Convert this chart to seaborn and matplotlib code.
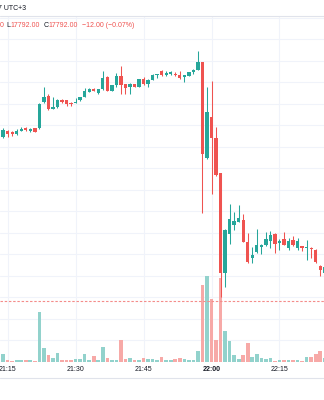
import numpy as np
import pandas as pd
import matplotlib
matplotlib.use("Agg")
import matplotlib.pyplot as plt
from matplotlib.lines import Line2D
import seaborn as sns

# ---------------- data (1-minute bars, UTC+3) ----------------
times = pd.date_range("2024-05-01 21:13", periods=73, freq="1min")
opens = [18162, 18174, 18188, 18185, 18181, 18188, 18194, 18188, 18193, 18195,
         18254, 18269, 18239, 18242, 18259, 18259, 18253, 18252, 18258, 18267,
         18278, 18284, 18276, 18284, 18313, 18281, 18294, 18314, 18296, 18290,
         18296, 18290, 18307, 18296, 18306, 18316, 18327, 18317, 18319, 18320,
         18317, 18313, 18315, 18325, 18329, 18347, 18124, 18220, 18171, 18089,
         17857, 17948, 17968, 17976, 17979, 17929, 17892, 17905, 17917, 17921,
         17931, 17948, 17927, 17936, 17915, 17933, 17915, 17919, 17914, 17916,
         17911, 17874, 17856]
highs = [18180, 18194, 18190, 18188, 18192, 18197, 18196, 18193, 18194, 18252,
         18290, 18272, 18265, 18262, 18262, 18260, 18255, 18263, 18267, 18287,
         18286, 18288, 18285, 18327, 18314, 18294, 18321, 18338, 18297, 18298,
         18297, 18309, 18312, 18307, 18319, 18320, 18329, 18327, 18327, 18325,
         18327, 18317, 18325, 18332, 18373, 18348, 18290, 18303, 18196, 18090,
         17960, 18018, 17999, 18015, 17994, 17950, 17918, 17959, 17924, 17953,
         17954, 17949, 17935, 17952, 17939, 17942, 17939, 17920, 17933, 17917,
         17912, 17875, 17872]
lows = [18150, 18171, 18174, 18176, 18178, 18187, 18188, 18185, 18184, 18192,
        18252, 18236, 18238, 18241, 18252, 18244, 18244, 18251, 18257, 18266,
        18277, 18280, 18273, 18283, 18280, 18280, 18290, 18273, 18273, 18273,
        18289, 18289, 18295, 18289, 18305, 18311, 18315, 18315, 18317, 18315,
        18309, 18300, 18314, 18320, 18328, 17997, 18122, 18041, 18083, 17802,
        17825, 17925, 17957, 17975, 17928, 17881, 17879, 17904, 17902, 17920,
        17915, 17904, 17911, 17922, 17911, 17920, 17911, 17907, 17888, 17892,
        17880, 17851, 17855]
closes = [18178, 18190, 18181, 18181, 18188, 18191, 18190, 18192, 18185, 18249,
          18265, 18239, 18243, 18259, 18255, 18250, 18250, 18255, 18266, 18279,
          18285, 18281, 18284, 18311, 18281, 18293, 18314, 18294, 18288, 18296,
          18290, 18308, 18296, 18306, 18318, 18319, 18316, 18321, 18323, 18316,
          18310, 18316, 18324, 18328, 18347, 18133, 18231, 18170, 18085, 17857,
          17958, 17983, 17978, 17985, 17929, 17882, 17898, 17923, 17923, 17935,
          17946, 17925, 17931, 17923, 17932, 17921, 17932, 17914, 17918, 17913,
          17882, 17863, 17871]
volumes = [270, 840, 170, 100, 170, 170, 170, 200, 100, 4970,
           1400, 670, 400, 900, 170, 170, 170, 340, 340, 770,
           170, 640, 170, 1470, 440, 200, 200, 2170, 270, 400,
           170, 170, 370, 270, 270, 200, 540, 240, 170, 270,
           440, 340, 170, 240, 1070, 7670, 8600, 6340, 2170, 8400,
           3070, 2070, 670, 270, 670, 1900, 470, 840, 370, 270,
           370, 100, 170, 170, 170, 170, 170, 100, 540, 540,
           770, 1070, 370]
tick_labels = ["21:15", "21:30", "21:45", "22:00", "22:15"]
last_price = 17792.0
header_low = "17792.00"
header_close = "17792.00"
header_change = "\u221212.00 (\u22120.07%)"

# ---------------- style ----------------
sns.set_theme(style="white")
plt.rcParams['font.family'] = ['Liberation Sans', 'DejaVu Sans']

UP, DOWN = "#26a69a", "#ef5350"
UP_VOL, DOWN_VOL = "#92d2cc", "#f7a9a7"
GRID = "#f0f3fa"
BORDER = "#e0e3eb"
TEXT = "#131722"

ref = pd.Timestamp("2024-05-01 22:00")
x = np.asarray((times - ref) / pd.Timedelta("1min"), dtype=float)
o = np.array(opens, float); h = np.array(highs, float)
l = np.array(lows, float); c = np.array(closes, float)
up = c >= o
cols = np.where(up, UP, DOWN)

tick_pos = [(pd.Timestamp("2024-05-01 " + t) - ref) / pd.Timedelta("1min") for t in tick_labels]

fig = plt.figure(figsize=(3.24, 4.0), dpi=100)
fig.patch.set_facecolor("white")
rect = [0, 38 / 400, 1, 346 / 400]
ax_grid = fig.add_axes(rect)
ax_vol = fig.add_axes(rect, sharex=ax_grid)
ax = fig.add_axes(rect, sharex=ax_grid, sharey=ax_grid)
for a in (ax_vol, ax):
    a.patch.set_visible(False)

# grid layer
ax_grid.set_xlim(-46.69, 24.83)
ax_grid.set_ylim(17651.6, 18454.3)
ax_grid.set_yticks(np.arange(17650, 18451, 50))
ax_grid.set_xticks(tick_pos)
ax_grid.grid(True, color=GRID, lw=0.75)
ax_grid.tick_params(axis="y", left=False, labelleft=False)
ax_grid.tick_params(axis="x", length=0, pad=3.2, labelsize=5.0, colors=TEXT)
ax_grid.set_xticklabels(tick_labels)
for lab in ax_grid.get_xticklabels():
    if lab.get_text() == "22:00":
        lab.set_fontweight("bold")

# volume layer
df = pd.DataFrame({"t": x, "vol": volumes, "dir": np.where(up, "up", "down")})
sns.barplot(data=df, x="t", y="vol", hue="dir",
            palette={"up": UP_VOL, "down": DOWN_VOL},
            native_scale=True, width=0.8, dodge=False, errorbar=None,
            legend=False, saturation=1, linewidth=0, ax=ax_vol)
ax_vol.set_ylim(0, 34600)
ax_vol.set_xlim(-46.69, 24.83)

# candle layer
ax.vlines(x, l, h, colors=cols, lw=0.75, zorder=2)
body_bottom = np.minimum(o, c)
body_h = np.maximum(np.abs(c - o), 2.3)
ax.bar(x, body_h, bottom=body_bottom, width=0.74, color=cols, linewidth=0, zorder=3)
ax.axhline(last_price, color="#f48c8a", lw=0.8, ls=(0, (2.2, 1.6)), zorder=1)

for a in (ax_grid, ax_vol, ax):
    for s in a.spines.values():
        s.set_visible(False)
    a.set_xlabel(""); a.set_ylabel("")
for a in (ax_vol, ax):
    a.tick_params(left=False, bottom=False, labelleft=False, labelbottom=False)
    a.grid(False)
ax_grid.set_xlim(-46.69, 24.83)

# frame lines
fig.add_artist(Line2D([0, 1], [1 - 16 / 400] * 2, transform=fig.transFigure, color=BORDER, lw=0.8))
fig.add_artist(Line2D([0, 1], [1 - 378 / 400] * 2, transform=fig.transFigure, color=BORDER, lw=0.8))

# header texts
def ftxt(px, py, s, color, **kw):
    fig.text(px / 324, 1 - py / 400, s, color=color, fontsize=5.0, va="center", **kw)

ftxt(-2.5, 8, "7 UTC+3", TEXT, ha="left")
ftxt(3.2, 25.3, "0", DOWN, ha="right")
ftxt(6.5, 25.3, "L", TEXT, ha="left")
ftxt(10, 25.3, header_low, DOWN, ha="left")
ftxt(44.0, 25.3, "C", TEXT, ha="left")
ftxt(48.5, 25.3, header_close, DOWN, ha="left")
ftxt(81.5, 25.3, header_change, DOWN, ha="left")

fig.savefig("out.png", dpi=100, facecolor="white")
